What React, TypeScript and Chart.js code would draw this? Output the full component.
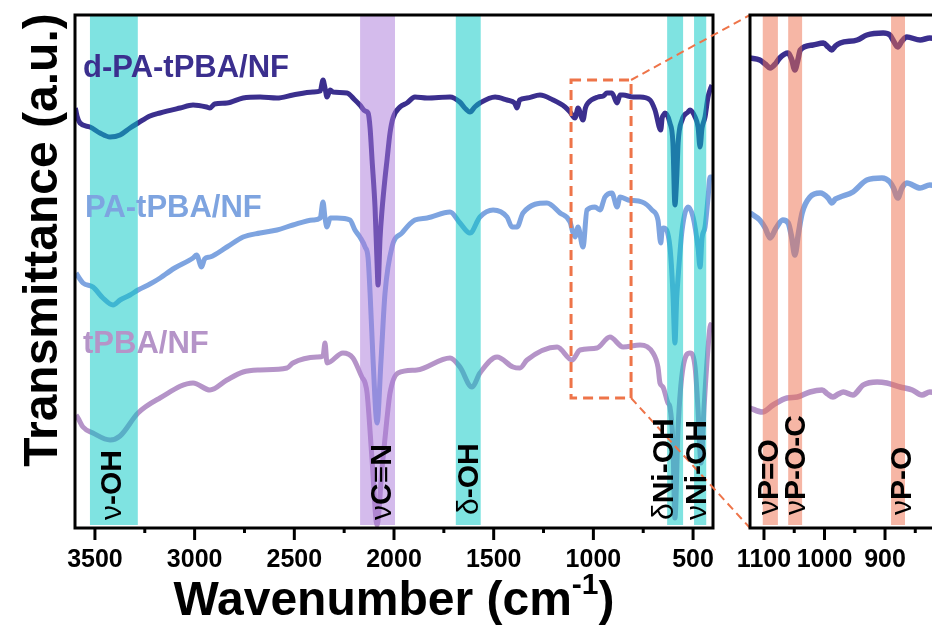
import React, { useEffect, useRef } from 'react';
import { Chart, registerables } from 'chart.js';
Chart.register(...registerables);

const FONT = "'Liberation Sans', Arial, Helvetica, sans-serif";

// ---------- main spectrum data (wavenumber cm-1 / transmittance a.u.) ----------
const dPA_wn = [3598,3590,3575,3525,3475,3424,3374,3324,3284,3224,3174,3073,3008,2940,2923,2900,2838,2757,2672,2587,2507,2406,2370,2356,2346,2336,2320,2306,2236,2196,2171,2145,2130,2120,2110,2095,2085,2080,2070,2060,2045,2035,2020,2005,1970,1935,1895,1834,1719,1670,1640,1619,1595,1569,1493,1433,1395,1383,1370,1333,1268,1202,1142,1117,1092,1077,1052,1040,1027,977,950,932,907,881,866,851,801,766,716,691,662,655,648,641,616,601,591,582,575,555,525,515,490,475,465,455,440,425,415,405];
const dPA_t = [420,412,405,401,395,391,393,400,405,412,415,420,423,421,420,424,425,430,431,430,433,436,437,448,440,431,438,436,435,428,423,417,415,400,368,320,265,243,290,318,350,368,395,410,421,425,431,430,431,426,419,416,421,425,431,428,425,420,428,430,433,428,421,416,410,420,408,420,425,431,432,435,435,425,433,433,431,431,428,418,398,410,413,415,405,385,323,350,385,408,416,418,411,401,381,400,411,431,438,443];

const PA_wn = [3595,3560,3510,3460,3409,3374,3324,3284,3224,3189,3100,3008,2990,2965,2950,2923,2838,2757,2672,2587,2507,2406,2370,2356,2346,2336,2320,2286,2221,2196,2171,2145,2130,2120,2105,2085,2065,2045,2010,1960,1895,1834,1719,1669,1619,1569,1503,1433,1408,1383,1353,1233,1167,1117,1102,1092,1077,1052,1032,992,967,942,907,881,866,826,756,706,676,662,655,648,616,601,591,582,575,555,525,500,475,465,455,440,425,415,405];
const PA_t = [255,245,241,230,223,228,233,238,244,248,260,270,273,261,269,271,281,291,295,298,303,308,310,326,310,301,310,310,308,298,291,281,270,235,168,105,168,235,281,295,308,310,316,305,295,311,318,311,301,301,315,325,315,306,295,291,301,281,318,321,318,331,335,321,331,328,326,318,308,285,298,300,281,235,185,230,251,298,321,311,280,261,290,301,330,351,351];

const tP_wn = [3595,3585,3560,3510,3424,3374,3284,3174,3008,2923,2838,2757,2672,2537,2507,2386,2356,2346,2336,2256,2206,2161,2145,2135,2110,2085,2060,2035,2020,1980,1885,1719,1669,1609,1569,1483,1403,1368,1333,1182,1107,1067,982,917,851,766,701,676,666,651,626,616,601,591,575,550,515,490,475,460,445,425,415,405];
const tP_t = [113,110,101,95,88,92,115,130,145,138,148,156,158,160,165,171,172,185,165,175,170,151,145,135,68,3,60,110,135,155,158,170,161,141,155,171,161,160,168,181,168,178,180,191,181,183,175,161,145,141,125,121,85,10,101,161,175,161,118,65,120,180,201,205];

// ---------- inset (zoomed 1123-810 cm-1) ----------
const in_dPA_wn = [1123,1107,1098,1090,1080,1074,1060,1054,1049,1044,1040,1019,1002,994,988,982,974,946,930,903,892,886,879,872,864,842,826,810];
const in_dPA_t = [470,468,464,460,465,470,475,468,458,468,478,483,485,481,478,482,485,488,493,495,493,487,481,487,491,488,490,489];
const in_PA_wn = [1123,1107,1098,1090,1080,1069,1060,1054,1049,1043,1037,1024,1007,994,988,982,974,953,930,905,892,886,879,872,864,842,826,810];
const in_PA_t = [315,308,300,290,300,308,305,290,273,295,315,331,335,330,325,329,331,336,348,350,346,340,330,340,345,340,343,342];
const in_tP_wn = [1123,1103,1085,1062,1045,1024,1004,995,986,977,969,953,936,913,897,875,855,839,826,810];
const in_tP_t = [120,116,123,130,131,136,138,134,131,134,136,133,143,146,145,141,138,133,136,135];

// ---------- labels, ticks, bands ----------
const seriesNames = ['d-PA-tPBA/NF', 'PA-tPBA/NF', 'tPBA/NF'];
const seriesColors = ['#3b2f8e', '#7ea4e0', '#b594c8'];
const mainTicks = [3500,3250,3000,2750,2500,2250,2000,1750,1500,1250,1000,750,500];
const insetTicks = [1100,1050,1000,950,900,850];
const cyanBands = [[3525,3285],[1690,1565],[630,550],[495,434]];
const purpleBand = [2170,1995];
const mainBandLabels = ['ν-OH','νC≡N','δ-OH','δNi-OH','νNi-OH'];
const mainBandLabelWn = [3424,2070,1634,656,490];
const insetBands = [[1102,1077],[1060,1037],[890,867]];
const insetBandLabels = ['νP=O','νP-O-C','νP-O'];
const insetBandLabelWn = [1095,1050,875];
const zoomRectWn = [1112, 811];
const zoomRectT = [448, 130];

const CYAN = 'rgba(0,200,196,0.5)';
const PURPLE = 'rgba(170,120,218,0.5)';
const ORANGE_BAND = 'rgba(238,110,75,0.5)';
const ORANGE = '#ee7449';

const toXY = (wn: number[], t: number[]) => wn.map((w, i) => ({ x: w, y: t[i] }));

function drawVLabel(ctx: CanvasRenderingContext2D, text: string, cx: number, yStart: number, size: number) {
  ctx.save();
  ctx.translate(cx, yStart);
  ctx.rotate(-Math.PI / 2);
  ctx.textBaseline = 'alphabetic';
  ctx.textAlign = 'left';
  ctx.fillStyle = '#000';
  const first = text[0];
  const rest = text.slice(1);
  ctx.font = `${size}px ${FONT}`;
  ctx.fillText(first, 0, size * 0.358);
  const w = ctx.measureText(first).width;
  ctx.font = `bold ${size}px ${FONT}`;
  ctx.fillText(rest, w, size * 0.358);
  ctx.restore();
}

function datasets(wns: number[][], ts: number[][], width: number) {
  return wns.map((wn, i) => ({
    label: seriesNames[i],
    data: toXY(wn, ts[i]),
    borderColor: seriesColors[i],
    backgroundColor: seriesColors[i],
    borderWidth: width,
    pointRadius: 0,
    cubicInterpolationMode: 'monotone' as const,
    fill: false,
  }));
}

const mainDecor = {
  id: 'mainDecor',
  afterDatasetsDraw(chart: any) {
    const { ctx, chartArea: a, scales } = chart;
    const x = scales.x, y = scales.y;
    ctx.save();
    // bands
    ctx.fillStyle = CYAN;
    cyanBands.forEach(([w1, w2]) => {
      const x1 = x.getPixelForValue(w1), x2 = x.getPixelForValue(w2);
      ctx.fillRect(x1, a.top, x2 - x1, a.bottom - a.top - 3);
    });
    ctx.fillStyle = PURPLE;
    {
      const x1 = x.getPixelForValue(purpleBand[0]), x2 = x.getPixelForValue(purpleBand[1]);
      ctx.fillRect(x1, a.top, x2 - x1, a.bottom - a.top - 3);
    }
    // frame
    ctx.strokeStyle = '#000';
    ctx.lineWidth = 3;
    ctx.strokeRect(a.left, a.top, a.right - a.left, a.bottom - a.top);
    // ticks
    ctx.lineWidth = 3;
    x.ticks.forEach((t: any) => {
      const px = x.getPixelForValue(t.value);
      const major = t.value % 500 === 0;
      ctx.beginPath();
      ctx.moveTo(px, a.bottom);
      ctx.lineTo(px, a.bottom + (major ? 12 : 5));
      ctx.stroke();
    });
    // zoom rectangle and connectors
    const rx1 = x.getPixelForValue(zoomRectWn[0]), rx2 = x.getPixelForValue(zoomRectWn[1]);
    const ry1 = y.getPixelForValue(zoomRectT[0]), ry2 = y.getPixelForValue(zoomRectT[1]);
    ctx.strokeStyle = ORANGE;
    ctx.lineWidth = 3;
    ctx.setLineDash([10, 6]);
    ctx.strokeRect(rx1, ry1, rx2 - rx1, ry2 - ry1);
    ctx.lineWidth = 2;
    ctx.setLineDash([8, 5]);
    ctx.beginPath();
    ctx.moveTo(rx2, ry1); ctx.lineTo(750, a.top);
    ctx.moveTo(rx2, ry2); ctx.lineTo(750, a.bottom);
    ctx.stroke();
    ctx.setLineDash([]);
    // band labels
    mainBandLabels.forEach((lab, i) => {
      drawVLabel(ctx, lab, x.getPixelForValue(mainBandLabelWn[i]), i === 2 ? 515 : 520, 30);
    });
    // series labels
    ctx.font = `bold 31px ${FONT}`;
    ctx.textAlign = 'left';
    ctx.textBaseline = 'alphabetic';
    const lx = [83, 85, 83], ly = [77, 217, 353];
    seriesNames.forEach((n, i) => { ctx.fillStyle = seriesColors[i]; ctx.fillText(n, lx[i], ly[i]); });
    // axis titles
    ctx.fillStyle = '#000';
    ctx.save();
    ctx.translate(40, 240);
    ctx.rotate(-Math.PI / 2);
    ctx.font = `bold 48px ${FONT}`;
    ctx.textAlign = 'center';
    ctx.fillText('Transmittance (a.u.)', 0, 17);
    ctx.restore();
    const big = `bold 48px ${FONT}`, sup = `bold 30px ${FONT}`;
    ctx.font = big; const w1 = ctx.measureText('Wavenumber (cm').width; const w3 = ctx.measureText(')').width;
    ctx.font = sup; const w2 = ctx.measureText('-1').width;
    let sx = (a.left + a.right) / 2 - (w1 + w2 + w3) / 2;
    ctx.textAlign = 'left';
    ctx.font = big; ctx.fillText('Wavenumber (cm', sx, 615); sx += w1;
    ctx.font = sup; ctx.fillText('-1', sx, 594); sx += w2;
    ctx.font = big; ctx.fillText(')', sx, 615);
    ctx.restore();
  },
};

const insetDecor = {
  id: 'insetDecor',
  afterDatasetsDraw(chart: any) {
    const { ctx, chartArea: a, scales } = chart;
    const x = scales.x;
    ctx.save();
    ctx.fillStyle = ORANGE_BAND;
    insetBands.forEach(([w1, w2]) => {
      const x1 = x.getPixelForValue(w1), x2 = x.getPixelForValue(w2);
      ctx.fillRect(x1, a.top, x2 - x1, a.bottom - a.top - 3);
    });
    ctx.strokeStyle = '#000';
    ctx.lineWidth = 3;
    ctx.beginPath();
    ctx.moveTo(a.right + 5, a.top); ctx.lineTo(a.left, a.top); ctx.lineTo(a.left, a.bottom); ctx.lineTo(a.right + 5, a.bottom);
    ctx.stroke();
    x.ticks.forEach((t: any) => {
      const px = x.getPixelForValue(t.value);
      const major = t.value % 100 === 0;
      ctx.beginPath();
      ctx.moveTo(px, a.bottom);
      ctx.lineTo(px, a.bottom + (major ? 12 : 5));
      ctx.stroke();
    });
    insetBandLabels.forEach((lab, i) => {
      drawVLabel(ctx, lab, x.getPixelForValue(insetBandLabelWn[i]), 515, 30);
    });
    ctx.restore();
  },
};

export default function App() {
  const mainRef = useRef<HTMLCanvasElement>(null);
  const insetRef = useRef<HTMLCanvasElement>(null);

  useEffect(() => {
    const tickFont = { family: FONT, size: 25, weight: 'bold' as const };
    const main = new Chart(mainRef.current!, {
      type: 'line',
      data: { datasets: datasets([dPA_wn, PA_wn, tP_wn], [dPA_t, PA_t, tP_t], 5) as any },
      options: {
        animation: false,
        responsive: false,
        devicePixelRatio: 1,
        parsing: false as any,
        layout: { padding: { left: 75, top: 15, right: 932 - 713, bottom: 0 } },
        plugins: { legend: { display: false }, tooltip: { enabled: false } },
        scales: {
          x: {
            type: 'linear',
            min: 400,
            max: 3600,
            reverse: true,
            afterBuildTicks: (s: any) => { s.ticks = mainTicks.map((v) => ({ value: v })); },
            afterFit: (s: any) => { s.height = 100; },
            grid: { display: false, drawTicks: true, tickLength: 12 },
            border: { display: false },
            ticks: {
              autoSkip: false,
              maxRotation: 0,
              padding: 5,
              color: '#000',
              font: tickFont,
              callback: (v: any) => (Number(v) % 500 === 0 ? String(v) : ''),
            },
          },
          y: { type: 'linear', min: 0, max: 513, display: false },
        },
      },
      plugins: [mainDecor],
    });

    const inset = new Chart(insetRef.current!, {
      type: 'line',
      data: { datasets: datasets([in_dPA_wn, in_PA_wn, in_tP_wn], [in_dPA_t, in_PA_t, in_tP_t], 5.5) as any },
      options: {
        animation: false,
        responsive: false,
        devicePixelRatio: 1,
        parsing: false as any,
        layout: { padding: { left: 50, top: 15, right: 0, bottom: 0 } },
        plugins: { legend: { display: false }, tooltip: { enabled: false } },
        scales: {
          x: {
            type: 'linear',
            min: 710,
            max: 1123.1,
            reverse: true,
            afterBuildTicks: (s: any) => { s.ticks = insetTicks.map((v) => ({ value: v })); },
            afterFit: (s: any) => { s.height = 100; },
            grid: { display: false, drawTicks: true, tickLength: 12 },
            border: { display: false },
            ticks: {
              autoSkip: false,
              maxRotation: 0,
              padding: 5,
              color: '#000',
              font: tickFont,
              callback: (v: any) => (Number(v) % 100 === 0 ? String(v) : ''),
            },
          },
          y: { type: 'linear', min: 0, max: 513, display: false },
        },
      },
      plugins: [insetDecor],
    });

    return () => { main.destroy(); inset.destroy(); };
  }, []);

  return (
    <div style={{ position: 'absolute', left: 0, top: 0, width: 932, height: 628, overflow: 'hidden', background: '#fff' }}>
      <canvas ref={mainRef} width={932} height={628} style={{ position: 'absolute', left: 0, top: 0, width: 932, height: 628 }} />
      <canvas ref={insetRef} width={300} height={628} style={{ position: 'absolute', left: 700, top: 0, width: 300, height: 628 }} />
    </div>
  );
}
